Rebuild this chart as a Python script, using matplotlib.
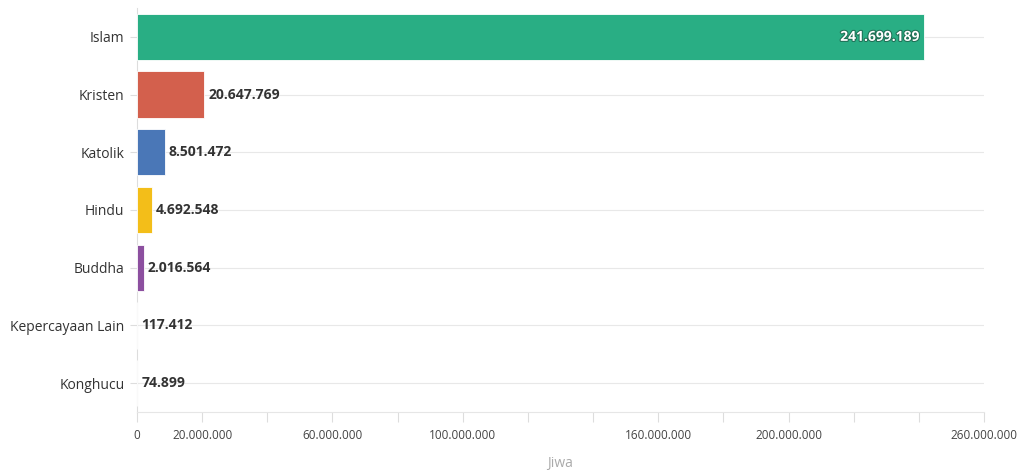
import matplotlib.pyplot as plt
import matplotlib.patheffects as pe

# Data
agama = ['Islam', 'Kristen', 'Katolik', 'Hindu', 'Buddha', 'Kepercayaan Lain', 'Konghucu']
jiwa = [241699189, 20647769, 8501472, 4692548, 2016564, 117412, 74899]
warna = ['#29ae84', '#d3604d', '#4a77b7', '#f3be19', '#8c4f9f', '#f2c89a', '#f4ddd8']
tick_vals = list(range(0, 260000001, 20000000))
tick_shown = [0, 20000000, 60000000, 100000000, 160000000, 200000000, 260000000]


def fmt(v):
    return f'{v:,}'.replace(',', '.')


plt.rcParams['font.family'] = ['Open Sans', 'DejaVu Sans']

fig = plt.figure(figsize=(10.24, 4.7), dpi=100)
ax = fig.add_axes([0.1338, 0.1234, 0.8272, 0.8596])

ypos = list(range(len(agama)))
ax.barh(ypos, jiwa, height=0.8, color=warna, edgecolor='white', linewidth=0.6, zorder=3)

# grid lines per category
for y in ypos:
    ax.axhline(y, color='#e8e8e8', linewidth=0.8, zorder=1)

for i, v in enumerate(jiwa):
    if i == 0:
        ax.text(v - 1500000, i, fmt(v), ha='right', va='center', color='white',
                fontsize=10, fontweight='bold', zorder=4,
                path_effects=[pe.withStroke(linewidth=1.5, foreground='#1f6f55')])
    else:
        ax.text(v + 1200000, i, fmt(v), ha='left', va='center', color='#333333',
                fontsize=10, fontweight='bold', zorder=4)

ax.set_ylim(6.5, -0.5)
ax.set_xlim(0, 260000000)
ax.set_yticks(ypos)
ax.set_yticklabels(agama, fontsize=10, color='#333333')
ax.set_xticks(tick_vals)
ax.set_xticklabels([fmt(t) if t in tick_shown else '' for t in tick_vals],
                   fontsize=8.5, color='#444444')
ax.tick_params(axis='y', length=5, color='#dddddd', pad=4)
ax.tick_params(axis='x', length=7, color='#dddddd', pad=5)

for s in ['top', 'right']:
    ax.spines[s].set_visible(False)
ax.spines['left'].set_color('#dddddd')
ax.spines['bottom'].set_color('#e6e6e6')

ax.set_xlabel('Jiwa', fontsize=10, color='#aaaaaa', labelpad=10)

plt.savefig('out.png', dpi=100)
